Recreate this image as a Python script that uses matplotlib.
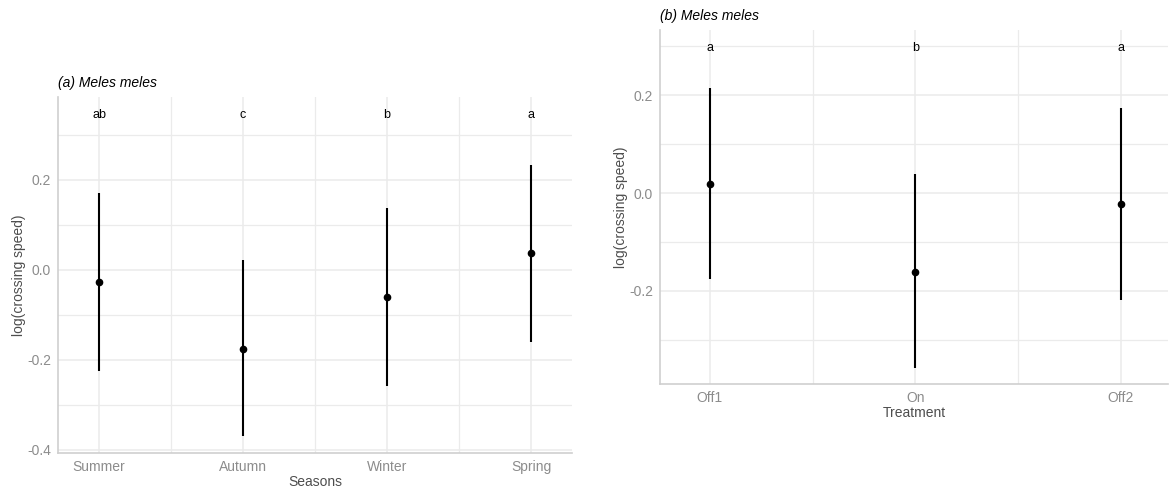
import matplotlib
matplotlib.use("Agg")
import matplotlib.pyplot as plt
import numpy as np

plt.rcParams['font.family'] = ['Liberation Sans', 'DejaVu Sans']

# (a) seasons
seasons = ["Summer", "Autumn", "Winter", "Spring"]
season_mean = [-0.027, -0.176, -0.060, 0.038]
season_low = [-0.224, -0.370, -0.257, -0.160]
season_high = [0.171, 0.022, 0.138, 0.233]
season_letters = ["ab", "c", "b", "a"]

# (b) treatment
treatments = ["Off1", "On", "Off2"]
treat_mean = [0.018, -0.161, -0.022]
treat_low = [-0.176, -0.358, -0.218]
treat_high = [0.214, 0.038, 0.173]
treat_letters = ["a", "b", "a"]

grid_col = "#ebebeb"
tick_col = "#8c8c8c"
lab_col = "#4d4d4d"


def panel(ax, cats, mean, low, high, letters, letter_y, xlab, title, ylim, xlim, yticks):
    x = np.arange(1, len(cats) + 1)
    ax.set_xlim(*xlim)
    ax.set_ylim(*ylim)
    # grid: major at categories/0.2 steps, minor in between
    ax.set_xticks(x)
    ax.set_xticks(x[:-1] + 0.5, minor=True)
    ax.set_yticks(yticks)
    ax.set_yticks(np.arange(-0.3, 0.31, 0.2), minor=True)
    ax.set_xticklabels(cats)
    ax.set_yticklabels(["%.1f" % v for v in yticks])
    ax.grid(True, which="major", color=grid_col, lw=1.1)
    ax.grid(True, which="minor", color=grid_col, lw=0.9)
    ax.set_axisbelow(True)
    ax.tick_params(which="both", length=0, labelsize=10, labelcolor=tick_col, pad=5)
    for s in ["top", "right"]:
        ax.spines[s].set_visible(False)
    for s in ["left", "bottom"]:
        ax.spines[s].set_color("#cfcfcf")
        ax.spines[s].set_linewidth(1.2)

    ax.vlines(x, low, high, color="black", lw=1.5, zorder=3)
    ax.plot(x, mean, "o", color="black", ms=4.5, zorder=4)
    for xi, lt in zip(x, letters):
        ax.text(xi, letter_y, lt, ha="center", va="center", fontsize=9, color="black")

    ax.set_xlabel(xlab, fontsize=10, color=lab_col, labelpad=1)
    ax.set_ylabel("log(crossing speed)", fontsize=10, color=lab_col, labelpad=1)
    ax.set_title(title, fontsize=10, style="italic", loc="left", pad=7)


fig = plt.figure(figsize=(11.69, 4.88), dpi=100)
ax1 = fig.add_axes([0.0496, 0.0717, 0.4397, 0.7295])
ax2 = fig.add_axes([0.5646, 0.2131, 0.4345, 0.7254])

panel(ax1, seasons, season_mean, season_low, season_high, season_letters, 0.345,
      "Seasons", "(a) Meles meles", (-0.407, 0.384), (0.715, 4.285), [-0.4, -0.2, 0.0, 0.2])
panel(ax2, treatments, treat_mean, treat_low, treat_high, treat_letters, 0.297,
      "Treatment", "(b) Meles meles", (-0.390, 0.333), (0.757, 3.23), [-0.2, 0.0, 0.2])

fig.savefig("out.png", dpi=100, facecolor="white")
